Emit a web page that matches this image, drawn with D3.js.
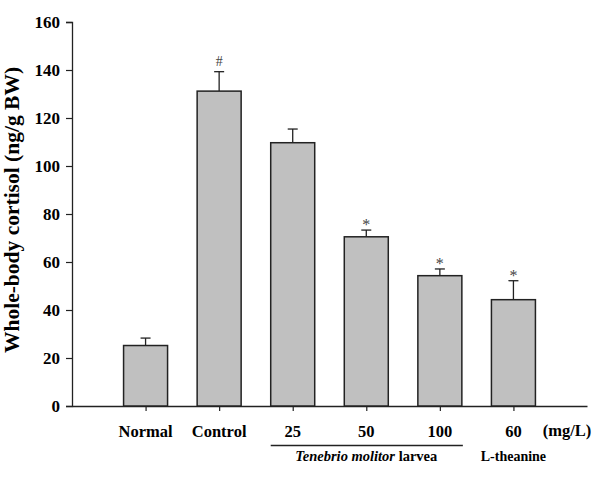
<!DOCTYPE html>
<html>
<head>
<meta charset="utf-8">
<script src="https://cdn.jsdelivr.net/npm/d3@7"></script>
<style>
  body { margin: 0; background: #fff; }
  text { font-family: "Liberation Serif", "Times New Roman", serif; }
</style>
</head>
<body>
<svg class="chart"></svg>
<script>
// groups along the x axis
var groups = ["Normal", "Control", "25", "50", "100", "60"];
// mean whole-body cortisol (ng/g BW)
var means = [25.2, 131.2, 109.7, 70.5, 54.3, 44.3];
// upper error (SD) above the mean
var errors = [3.1, 8.1, 5.7, 2.8, 2.8, 7.9];
// significance marks
var marks = ["", "#", "", "*", "*", "*"];
var yTicks = [0, 20, 40, 60, 80, 100, 120, 140, 160];

var width = 610, height = 490;
var margin = {top: 22, left: 72, right: 23, bottom: 84};

var svg = d3.select(".chart")
    .attr("width", width)
    .attr("height", height);

// linear x so that bars sit at 1..6 with an empty slot on both ends
var x = d3.scaleLinear()
    .domain([0, 7])
    .range([margin.left, width - margin.right]);

var y = d3.scaleLinear()
    .domain([0, 160])
    .range([height - margin.bottom, margin.top]);

var barW = 44;

// y axis
svg.append("g")
    .attr("transform", "translate(" + margin.left + ",0)")
    .call(d3.axisLeft(y).tickValues(yTicks).tickSize(6).tickPadding(6).tickFormat(d3.format("d")))
    .call(g => g.select(".domain").attr("stroke", "#222").attr("stroke-width", 1.3))
    .call(g => g.selectAll(".tick line").attr("stroke", "#222").attr("stroke-width", 1.2))
    .call(g => g.selectAll(".tick text")
        .attr("font-size", 17)
        .attr("font-weight", "bold")
        .attr("fill", "#000"));

// x axis: ticks at bar centers, labels drawn separately
svg.append("g")
    .attr("transform", "translate(0," + y(0) + ")")
    .call(d3.axisBottom(x).tickValues([1, 2, 3, 4, 5, 6]).tickSize(5).tickSizeOuter(0).tickFormat(""))
    .call(g => g.select(".domain").attr("stroke", "#222").attr("stroke-width", 1.3))
    .call(g => g.selectAll(".tick line").attr("stroke", "#222").attr("stroke-width", 1.2));

// error bars (upper only)
var eb = svg.append("g").attr("stroke", "#222").attr("stroke-width", 1.3);
eb.selectAll("line.v")
    .data(means)
    .enter().append("line")
    .attr("class", "v")
    .attr("x1", (d, i) => x(i + 1))
    .attr("x2", (d, i) => x(i + 1))
    .attr("y1", d => y(d))
    .attr("y2", (d, i) => y(d + errors[i]));
eb.selectAll("line.cap")
    .data(means)
    .enter().append("line")
    .attr("class", "cap")
    .attr("x1", (d, i) => x(i + 1) - 5)
    .attr("x2", (d, i) => x(i + 1) + 5)
    .attr("y1", (d, i) => y(d + errors[i]))
    .attr("y2", (d, i) => y(d + errors[i]));

// bars
svg.append("g")
    .selectAll("rect")
    .data(means)
    .enter().append("rect")
    .attr("x", (d, i) => x(i + 1) - barW / 2)
    .attr("y", d => y(d))
    .attr("width", barW)
    .attr("height", d => y(0) - y(d))
    .attr("fill", "#c0c0c0")
    .attr("stroke", "#222")
    .attr("stroke-width", 1.5);

// significance marks
svg.append("g")
    .selectAll("text")
    .data(marks)
    .enter().append("text")
    .attr("x", (d, i) => x(i + 1))
    .attr("y", (d, i) => y(means[i] + errors[i]) - (d == "#" ? 6 : 0))
    .attr("text-anchor", "middle")
    .attr("font-size", d => d == "#" ? 14 : 16)
    .attr("fill", "#444")
    .text(d => d);

// category labels
svg.append("g")
    .selectAll("text")
    .data(groups)
    .enter().append("text")
    .attr("x", (d, i) => x(i + 1))
    .attr("y", 437)
    .attr("text-anchor", "middle")
    .attr("font-size", 16.5)
    .attr("font-weight", "bold")
    .text(d => d);

svg.append("text")
    .attr("x", 567)
    .attr("y", 436)
    .attr("text-anchor", "middle")
    .attr("font-size", 16.5)
    .attr("font-weight", "bold")
    .text("(mg/L)");

// grouping line under the larva doses
svg.append("line")
    .attr("x1", x(3) - 22)
    .attr("x2", x(5) + 23)
    .attr("y1", 445.5)
    .attr("y2", 445.5)
    .attr("stroke", "#222")
    .attr("stroke-width", 1.3);

var sub = svg.append("text")
    .attr("x", x(4))
    .attr("y", 461)
    .attr("text-anchor", "middle")
    .attr("font-size", 14.5)
    .attr("font-weight", "bold");
sub.append("tspan").attr("font-style", "italic").text("Tenebrio molitor");
sub.append("tspan").text(" larvea");

svg.append("text")
    .attr("x", x(6))
    .attr("y", 461)
    .attr("text-anchor", "middle")
    .attr("font-size", 14)
    .attr("font-weight", "bold")
    .text("L-theanine");

// y axis title
svg.append("text")
    .attr("transform", "translate(19," + (y(80) - 4) + ") rotate(-90)")
    .attr("text-anchor", "middle")
    .attr("font-size", 21.5)
    .attr("font-weight", "bold")
    .text("Whole-body cortisol (ng/g BW)");
</script>
</body>
</html>
